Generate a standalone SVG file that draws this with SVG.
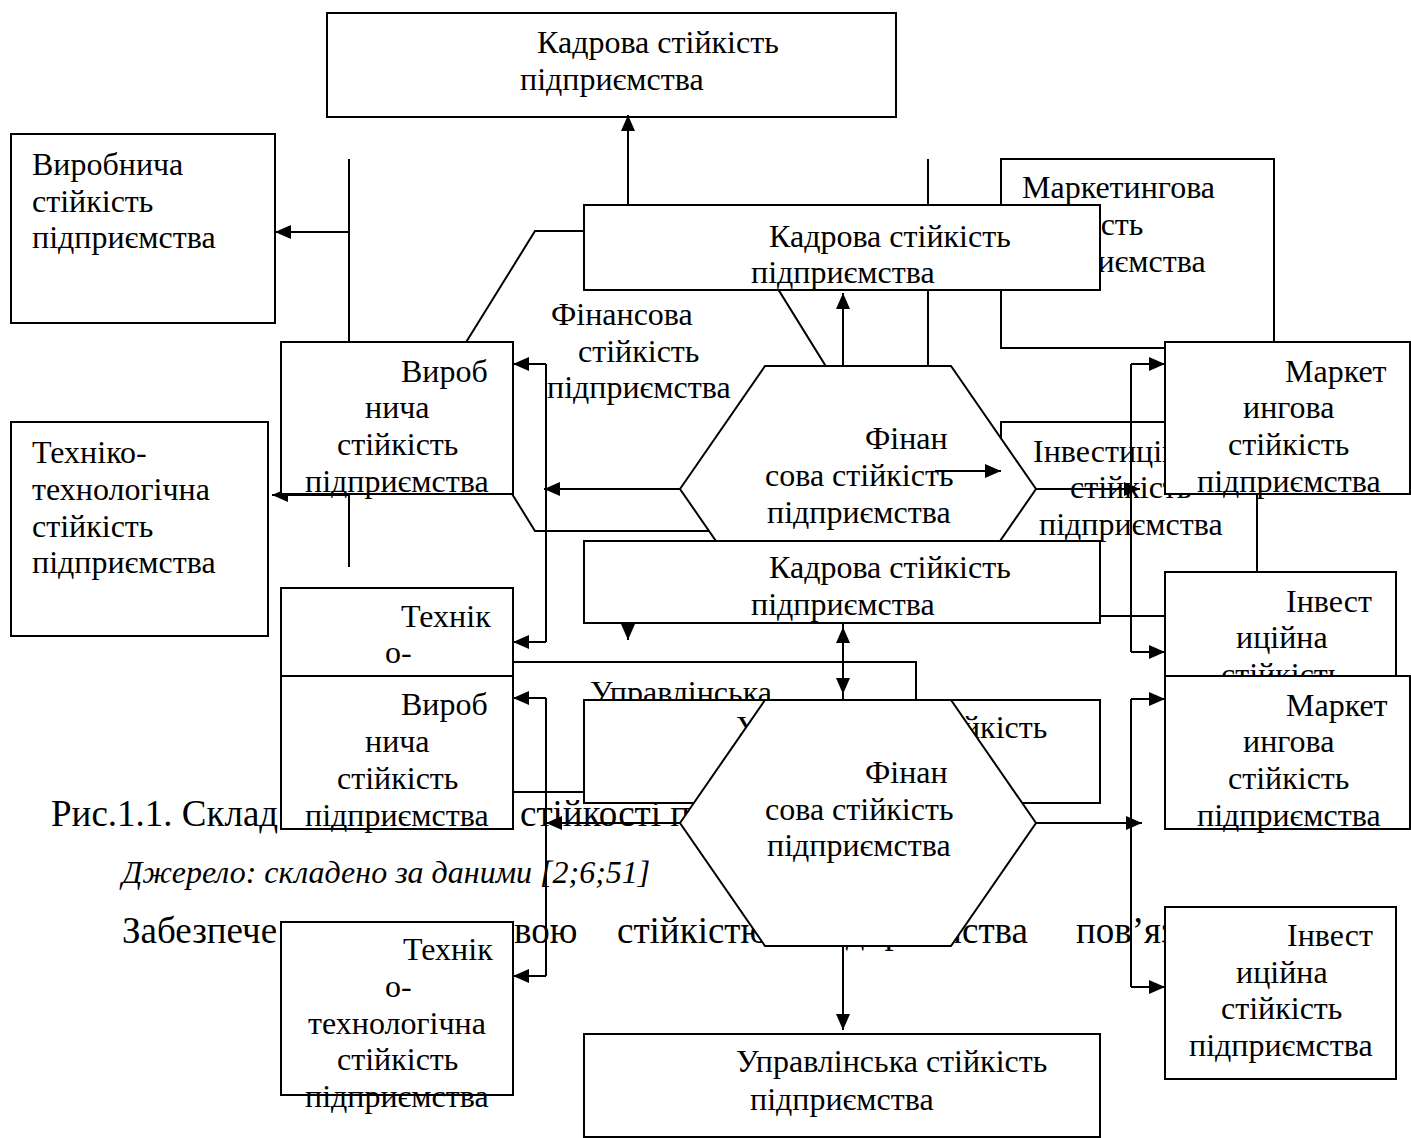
<svg xmlns="http://www.w3.org/2000/svg" width="1411" height="1138" viewBox="0 0 1411 1138">
<defs>
<marker id="ah" markerWidth="16" markerHeight="14" refX="16" refY="7" orient="auto" markerUnits="userSpaceOnUse"><path d="M0,0 L16,7 L0,14 z" fill="#000"/></marker>
</defs>
<style>
.bx{fill:#fff;stroke:#000;stroke-width:2}
.t{font-family:"Liberation Serif","Times New Roman",serif;font-size:32px;fill:#000}
.p{font-family:"Liberation Serif","Times New Roman",serif;font-size:37px;fill:#000}
.i{font-family:"Liberation Serif","Times New Roman",serif;font-size:32px;font-style:italic;fill:#000}
.c line{stroke:#000;stroke-width:2;fill:none}
.a{marker-end:url(#ah)}
</style>
<rect width="1411" height="1138" fill="#fff"/>

<g id="page-text">
<text class="p" x="51" y="826">Рис.1.1. Склад</text>
<text class="p" x="520" y="826">стійкості п</text>
<text class="i" x="122" y="883">Джерело: складено за даними [2;6;51]</text>
<text class="p" x="122" y="943">Забезпече</text>
<text class="p" x="514" y="943">вою</text>
<text class="p" x="617" y="943">стійкістю</text>
<text class="p" x="1028" y="943" text-anchor="end">підприємства</text>
<text class="p" x="1076" y="943">пов’яз</text>
</g>

<!-- Layer A -->
<g id="a-kadrova"><rect class="bx" x="327" y="13" width="569" height="104"/>
<text class="t" x="537" y="53">Кадрова стійкість</text><text class="t" x="520" y="90">підприємства</text></g>
<g id="a-vyrobnycha"><rect class="bx" x="11" y="134" width="264" height="189"/>
<text class="t" x="32" y="175">Виробнича</text><text class="t" x="32" y="212">стійкість</text><text class="t" x="32" y="248">підприємства</text></g>
<g id="a-tekhniko"><rect class="bx" x="11" y="422" width="257" height="214"/>
<text class="t" x="32" y="463">Техніко-</text><text class="t" x="32" y="500">технологічна</text><text class="t" x="32" y="537">стійкість</text><text class="t" x="32" y="573">підприємства</text></g>
<g id="a-marketing"><rect class="bx" x="1001" y="159" width="273" height="189"/>
<text class="t" x="1022" y="198">Маркетингова</text><text class="t" x="1022" y="235">стійкість</text><text class="t" x="1022" y="272">підприємства</text></g>
<g id="a-invest"><rect class="bx" x="1001" y="422" width="256" height="194"/>
<text class="t" x="1033" y="462">Інвестиційна</text><text class="t" x="1070" y="498">стійкість</text><text class="t" x="1039" y="535">підприємства</text></g>
<g id="a-upravlinska"><rect class="bx" x="347" y="662" width="569" height="130"/>
<text class="t" x="590" y="703">Управлінська</text></g>
<g id="a-finansova"><polygon class="bx" points="442,381 535,231 742,231 835,381 742,531 535,531"/>
<text class="t" x="551" y="325">Фінансова</text><text class="t" x="578" y="362">стійкість</text><text class="t" x="547" y="398">підприємства</text></g>
<g id="connectors-a" class="c">
<line x1="628" y1="205" x2="628" y2="115" class="a"/>
<line x1="349" y1="159" x2="349" y2="567"/>
<line x1="349" y1="232" x2="275" y2="232" class="a"/>
<line x1="349" y1="495" x2="272" y2="495" class="a"/>
<line x1="928" y1="159" x2="928" y2="366"/>
<line x1="628" y1="624" x2="628" y2="640" class="a"/>
</g>

<!-- Layer B -->
<g id="b-kadrova"><rect class="bx" x="584" y="205" width="516" height="85"/>
<text class="t" x="769" y="247">Кадрова стійкість</text><text class="t" x="751" y="283">підприємства</text></g>
<g id="b-vyrobnycha"><rect class="bx" x="281" y="342" width="232" height="152"/>
<text class="t" x="401" y="382">Вироб</text><text class="t" x="365" y="418">нича</text><text class="t" x="337" y="455">стійкість</text><text class="t" x="305" y="492">підприємства</text></g>
<g id="b-tekhniko"><rect class="bx" x="281" y="588" width="232" height="172"/>
<text class="t" x="401" y="627">Технік</text><text class="t" x="385" y="663">о-</text></g>
<g id="b-marketing"><rect class="bx" x="1165" y="342" width="245" height="152"/>
<text class="t" x="1285" y="382">Маркет</text><text class="t" x="1243" y="418">ингова</text><text class="t" x="1228" y="455">стійкість</text><text class="t" x="1197" y="492">підприємства</text></g>
<g id="b-invest"><rect class="bx" x="1165" y="572" width="231" height="172"/>
<text class="t" x="1286" y="612">Інвест</text><text class="t" x="1236" y="648">иційна</text><text class="t" x="1221" y="685">стійкість</text></g>
<g id="b-upravlinska"><rect class="bx" x="584" y="700" width="516" height="103"/>
<text class="t" x="736" y="738">Управлінська стійкість</text></g>
<g id="b-finansova"><polygon class="bx" points="680,489 765,366 951,366 1036,489 951,612 765,612"/>
<text class="t" x="865" y="449">Фінан</text><text class="t" x="765" y="486">сова стійкість</text><text class="t" x="767" y="523">підприємства</text></g>
<g id="connectors-b" class="c">
<line x1="843" y1="366" x2="843" y2="293" class="a"/>
<line x1="680" y1="489" x2="544" y2="489" class="a"/>
<line x1="546" y1="364" x2="546" y2="642"/>
<line x1="546" y1="364" x2="513" y2="364" class="a"/>
<line x1="546" y1="642" x2="513" y2="642" class="a"/>
<line x1="1036" y1="489" x2="1140" y2="489" class="a"/>
<line x1="1131" y1="364" x2="1131" y2="652"/>
<line x1="1131" y1="364" x2="1165" y2="364" class="a"/>
<line x1="1131" y1="652" x2="1165" y2="652" class="a"/>
<line x1="843" y1="612" x2="843" y2="694" class="a"/>
<line x1="935" y1="471" x2="1001" y2="471" class="a"/>
</g>

<!-- Layer C -->
<g id="c-kadrova"><rect class="bx" x="584" y="541" width="516" height="82"/>
<text class="t" x="769" y="578">Кадрова стійкість</text><text class="t" x="751" y="615">підприємства</text></g>
<g id="c-vyrobnycha"><rect class="bx" x="281" y="676" width="232" height="153"/>
<text class="t" x="401" y="715">Вироб</text><text class="t" x="365" y="752">нича</text><text class="t" x="337" y="789">стійкість</text><text class="t" x="305" y="826">підприємства</text></g>
<g id="c-tekhniko"><rect class="bx" x="281" y="922" width="232" height="173"/>
<text class="t" x="403" y="960">Технік</text><text class="t" x="385" y="997">о-</text><text class="t" x="308" y="1034">технологічна</text><text class="t" x="337" y="1070">стійкість</text><text class="t" x="305" y="1107">підприємства</text></g>
<g id="c-marketing"><rect class="bx" x="1165" y="676" width="245" height="153"/>
<text class="t" x="1286" y="716">Маркет</text><text class="t" x="1243" y="752">ингова</text><text class="t" x="1228" y="789">стійкість</text><text class="t" x="1197" y="826">підприємства</text></g>
<g id="c-invest"><rect class="bx" x="1165" y="907" width="231" height="172"/>
<text class="t" x="1287" y="946">Інвест</text><text class="t" x="1236" y="983">иційна</text><text class="t" x="1221" y="1019">стійкість</text><text class="t" x="1189" y="1056">підприємства</text></g>
<g id="c-upravlinska"><rect class="bx" x="584" y="1034" width="516" height="103"/>
<text class="t" x="736" y="1072">Управлінська стійкість</text><text class="t" x="750" y="1110">підприємства</text></g>
<g id="c-finansova"><polygon class="bx" points="680,823 765,700 951,700 1036,823 951,946 765,946"/>
<text class="t" x="865" y="783">Фінан</text><text class="t" x="765" y="820">сова стійкість</text><text class="t" x="767" y="856">підприємства</text></g>
<g id="connectors-c" class="c">
<line x1="843" y1="700" x2="843" y2="627" class="a"/>
<line x1="680" y1="823" x2="546" y2="823" class="a"/>
<line x1="546" y1="698" x2="546" y2="976"/>
<line x1="546" y1="698" x2="513" y2="698" class="a"/>
<line x1="546" y1="976" x2="513" y2="976" class="a"/>
<line x1="1036" y1="823" x2="1142" y2="823" class="a"/>
<line x1="1131" y1="699" x2="1131" y2="987"/>
<line x1="1131" y1="699" x2="1165" y2="699" class="a"/>
<line x1="1131" y1="987" x2="1165" y2="987" class="a"/>
<line x1="843" y1="946" x2="843" y2="1030" class="a"/>
</g>
</svg>
